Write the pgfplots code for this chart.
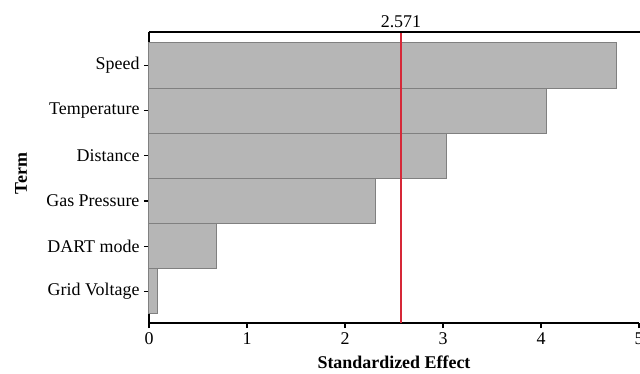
\documentclass[border=0pt]{standalone}
\usepackage{pgfplots}
\pgfplotsset{compat=1.18}
\usepackage{fontspec}
\setmainfont{Liberation Serif}
\definecolor{barfill}{RGB}{182,182,182}
\definecolor{baredge}{RGB}{128,128,128}
\definecolor{refred}{RGB}{214,40,56}
\begin{document}
\begin{tikzpicture}
\begin{axis}[
  name=ax,
  scale only axis,
  width=490bp, height=291bp,
  xmin=0, xmax=5,
  ymin=-0.70, ymax=5.74,
  axis x line*=bottom,
  axis y line*=left,
  axis line style={line width=1.6bp, black},
  xtick={0,1,2,3,4,5},
  ytick={0,1,2,3,4,5},
  yticklabels={Grid Voltage,DART mode,Gas Pressure,Distance,Temperature,Speed},
  tick align=outside,
  major tick length=5bp,
  tick style={line width=1.3bp, black},
  /pgf/number format/assume math mode=true,
  ticklabel style={font=\fontsize{18}{21}\selectfont},
  yticklabel style={xshift=-1bp},
  xticklabel style={yshift=-1bp},
  xlabel={\textbf{Standardized Effect}},
  ylabel={\textbf{Term}},
  every axis x label/.style={at={([yshift=-39bp]axis description cs:0.5,0)}, anchor=center, font=\fontsize{18}{21}\selectfont},
  every axis y label/.style={at={([xshift=-128bp,yshift=4bp]axis description cs:0,0.5)}, anchor=center, rotate=90, font=\fontsize{18}{21}\selectfont},
  clip=false,
]
\addplot[xbar, bar width=1, fill=barfill, draw=baredge, line width=1bp]
  coordinates {(0.09,0) (0.69,1) (2.31,2) (3.04,3) (4.06,4) (4.77,5)};
\addplot[refred, line width=1.5bp] coordinates {(2.571,-0.70) (2.571,5.74)};
\draw[line width=1.6bp, black] (rel axis cs:0,1) -- (rel axis cs:1.01,1);
\node[anchor=base, font=\fontsize{18}{21}\selectfont] at ([yshift=5bp]axis cs:2.571,5.74) {2.571};
\end{axis}
\pgfresetboundingbox
\useasboundingbox ([xshift=-149bp,yshift=-51bp]ax.south west) rectangle ([xshift=1bp,yshift=32bp]ax.north east);
\end{tikzpicture}
\end{document}
